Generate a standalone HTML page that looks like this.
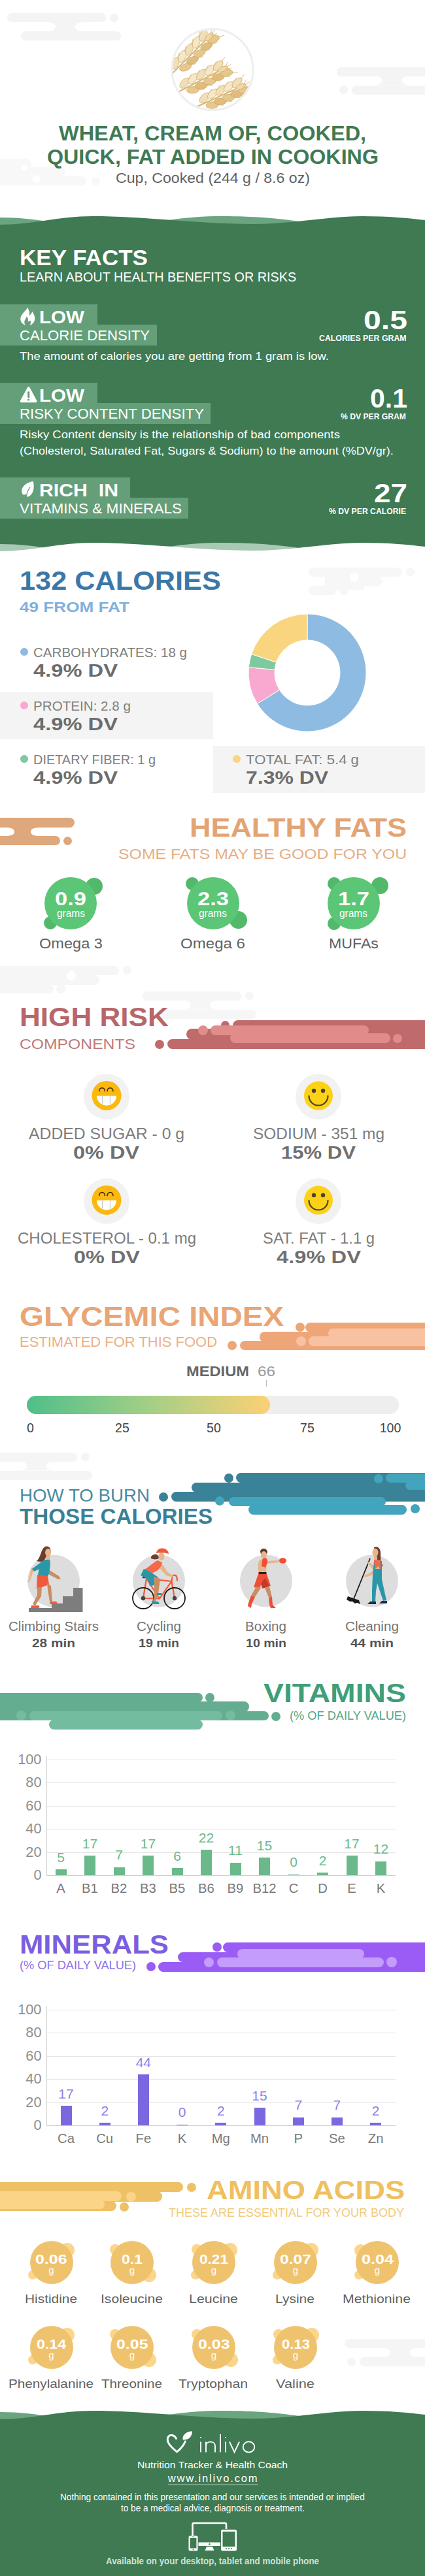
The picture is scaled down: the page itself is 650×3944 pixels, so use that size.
<!DOCTYPE html><html><head><meta charset="utf-8"><title>Wheat, cream of, cooked</title><style>
html,body{margin:0;padding:0;background:#fff}body{width:650px;height:3944px;position:relative;overflow:hidden;font-family:"Liberation Sans",sans-serif}.t{position:absolute;white-space:pre;line-height:1;margin:0;transform-origin:0 0}svg{position:absolute;overflow:visible}
</style></head><body>
<div style="position:absolute;left:11px;top:20px;width:151px;height:14px;background:#f4f4f4;border-radius:7.0px;"></div>
<div style="position:absolute;left:32px;top:48px;width:153px;height:14px;background:#f4f4f4;border-radius:7.0px;"></div>
<svg style="left:0;top:0" width="650" height="10"><path fill="#f4f4f4" d="M71,34 Q85,34 85,41 Q85,48 71,48 L129,48 Q115,48 115,41 Q115,34 129,34 Z"/></svg>
<div style="position:absolute;left:168.0px;top:20.5px;width:13.0px;height:13.0px;background:#f4f4f4;border-radius:6.5px;"></div>
<div style="position:absolute;left:514.5px;top:102.5px;width:153.0px;height:14.0px;background:#f4f4f4;border-radius:7.0px;"></div>
<div style="position:absolute;left:537.5px;top:130.5px;width:151.0px;height:14.0px;background:#f4f4f4;border-radius:7.0px;"></div>
<svg style="left:0;top:0" width="650" height="10"><path fill="#f4f4f4" d="M570.5,116.5 Q584.5,116.5 584.5,123.5 Q584.5,130.5 570.5,130.5 L628.5,130.5 Q614.5,130.5 614.5,123.5 Q614.5,116.5 628.5,116.5 Z"/></svg>
<div style="position:absolute;left:518.5px;top:131.0px;width:13.0px;height:13.0px;background:#f4f4f4;border-radius:6.5px;"></div>
<div style="position:absolute;left:-20px;top:242.5px;width:68px;height:14.0px;background:#f8f8f8;border-radius:7.0px;"></div>
<div style="position:absolute;left:-20px;top:256px;width:120px;height:14px;background:#f8f8f8;border-radius:7.0px;"></div>
<div style="position:absolute;left:-20px;top:269.5px;width:152px;height:14.5px;background:#f8f8f8;border-radius:7.25px;"></div>
<div style="position:absolute;left:140.0px;top:271.0px;width:13.0px;height:13.0px;background:#f8f8f8;border-radius:6.5px;"></div>
<div style="position:absolute;left:50px;top:267.5px;width:12px;height:12px;background:#fff;border-radius:6px;"></div>
<div style="position:absolute;left:32px;top:252px;width:10px;height:10px;background:#fff;border-radius:5px;"></div>
<svg style="left:260px;top:41px" width="130" height="130" viewBox="0 0 130 130">
<defs><clipPath id="wc"><circle cx="65" cy="65.5" r="60.5"/></clipPath></defs>
<circle cx="65" cy="65.5" r="62" fill="#fff" stroke="#eeeeee" stroke-width="3"/>
<g clip-path="url(#wc)"><g transform="translate(4,71) rotate(-45.0)"><path d="M-30,0 L76.4,0" stroke="#d9b777" stroke-width="2.2"/><g transform="translate(6.1,-3.0) rotate(-22)"><ellipse cx="8.6" cy="-1.5" rx="9.5" ry="5.2" fill="#f0dfb8" stroke="#cfa65f" stroke-width="0.7"/><path d="M17.1,-1.5 l9,-1.0" stroke="#d8b570" stroke-width="0.8"/></g><g transform="translate(12.9,3.0) rotate(22)"><ellipse cx="8.6" cy="1.5" rx="9.5" ry="5.2" fill="#e6c88e" stroke="#cfa65f" stroke-width="0.7"/><path d="M17.1,1.5 l9,1.0" stroke="#d8b570" stroke-width="0.8"/></g><g transform="translate(21.2,-3.0) rotate(-22)"><ellipse cx="8.6" cy="-1.5" rx="9.5" ry="5.2" fill="#f5e8c8" stroke="#cfa65f" stroke-width="0.7"/><path d="M17.1,-1.5 l9,-1.0" stroke="#d8b570" stroke-width="0.8"/></g><g transform="translate(28.0,3.0) rotate(22)"><ellipse cx="8.6" cy="1.5" rx="9.5" ry="5.2" fill="#e0bd7c" stroke="#cfa65f" stroke-width="0.7"/><path d="M17.1,1.5 l9,1.0" stroke="#d8b570" stroke-width="0.8"/></g><g transform="translate(36.4,-3.0) rotate(-22)"><ellipse cx="8.6" cy="-1.5" rx="9.5" ry="5.2" fill="#f0dfb8" stroke="#cfa65f" stroke-width="0.7"/><path d="M17.1,-1.5 l9,-1.0" stroke="#d8b570" stroke-width="0.8"/></g><g transform="translate(43.2,3.0) rotate(22)"><ellipse cx="8.6" cy="1.5" rx="9.5" ry="5.2" fill="#e6c88e" stroke="#cfa65f" stroke-width="0.7"/><path d="M17.1,1.5 l9,1.0" stroke="#d8b570" stroke-width="0.8"/></g><g transform="translate(51.5,-3.0) rotate(-22)"><ellipse cx="8.6" cy="-1.5" rx="9.5" ry="5.2" fill="#f5e8c8" stroke="#cfa65f" stroke-width="0.7"/><path d="M17.1,-1.5 l9,-1.0" stroke="#d8b570" stroke-width="0.8"/></g><g transform="translate(58.3,3.0) rotate(22)"><ellipse cx="8.6" cy="1.5" rx="9.5" ry="5.2" fill="#e0bd7c" stroke="#cfa65f" stroke-width="0.7"/><path d="M17.1,1.5 l9,1.0" stroke="#d8b570" stroke-width="0.8"/></g><g transform="translate(66.7,-3.0) rotate(-22)"><ellipse cx="8.6" cy="-1.5" rx="9.5" ry="5.2" fill="#f0dfb8" stroke="#cfa65f" stroke-width="0.7"/><path d="M17.1,-1.5 l9,-1.0" stroke="#d8b570" stroke-width="0.8"/></g><g transform="translate(73.5,3.0) rotate(22)"><ellipse cx="8.6" cy="1.5" rx="9.5" ry="5.2" fill="#e6c88e" stroke="#cfa65f" stroke-width="0.7"/><path d="M17.1,1.5 l9,1.0" stroke="#d8b570" stroke-width="0.8"/></g><ellipse cx="78.9" cy="0" rx="8" ry="3.6" fill="#efd9a8" stroke="#cfa65f" stroke-width="0.7"/><path d="M84.9,0 l9,-1 M82.9,-1 l8,-5 M82.9,1 l8,4" stroke="#d8b570" stroke-width="0.8" fill="none"/></g><g transform="translate(14,99) rotate(-27.2)"><path d="M-30,0 L72.9,0" stroke="#d9b777" stroke-width="2.2"/><g transform="translate(5.8,-3.0) rotate(-22)"><ellipse cx="8.6" cy="-1.5" rx="9.5" ry="5.2" fill="#f0dfb8" stroke="#cfa65f" stroke-width="0.7"/><path d="M17.1,-1.5 l9,-1.0" stroke="#d8b570" stroke-width="0.8"/></g><g transform="translate(12.3,3.0) rotate(22)"><ellipse cx="8.6" cy="1.5" rx="9.5" ry="5.2" fill="#e6c88e" stroke="#cfa65f" stroke-width="0.7"/><path d="M17.1,1.5 l9,1.0" stroke="#d8b570" stroke-width="0.8"/></g><g transform="translate(20.2,-3.0) rotate(-22)"><ellipse cx="8.6" cy="-1.5" rx="9.5" ry="5.2" fill="#f5e8c8" stroke="#cfa65f" stroke-width="0.7"/><path d="M17.1,-1.5 l9,-1.0" stroke="#d8b570" stroke-width="0.8"/></g><g transform="translate(26.7,3.0) rotate(22)"><ellipse cx="8.6" cy="1.5" rx="9.5" ry="5.2" fill="#e0bd7c" stroke="#cfa65f" stroke-width="0.7"/><path d="M17.1,1.5 l9,1.0" stroke="#d8b570" stroke-width="0.8"/></g><g transform="translate(34.7,-3.0) rotate(-22)"><ellipse cx="8.6" cy="-1.5" rx="9.5" ry="5.2" fill="#f0dfb8" stroke="#cfa65f" stroke-width="0.7"/><path d="M17.1,-1.5 l9,-1.0" stroke="#d8b570" stroke-width="0.8"/></g><g transform="translate(41.2,3.0) rotate(22)"><ellipse cx="8.6" cy="1.5" rx="9.5" ry="5.2" fill="#e6c88e" stroke="#cfa65f" stroke-width="0.7"/><path d="M17.1,1.5 l9,1.0" stroke="#d8b570" stroke-width="0.8"/></g><g transform="translate(49.1,-3.0) rotate(-22)"><ellipse cx="8.6" cy="-1.5" rx="9.5" ry="5.2" fill="#f5e8c8" stroke="#cfa65f" stroke-width="0.7"/><path d="M17.1,-1.5 l9,-1.0" stroke="#d8b570" stroke-width="0.8"/></g><g transform="translate(55.7,3.0) rotate(22)"><ellipse cx="8.6" cy="1.5" rx="9.5" ry="5.2" fill="#e0bd7c" stroke="#cfa65f" stroke-width="0.7"/><path d="M17.1,1.5 l9,1.0" stroke="#d8b570" stroke-width="0.8"/></g><g transform="translate(63.6,-3.0) rotate(-22)"><ellipse cx="8.6" cy="-1.5" rx="9.5" ry="5.2" fill="#f0dfb8" stroke="#cfa65f" stroke-width="0.7"/><path d="M17.1,-1.5 l9,-1.0" stroke="#d8b570" stroke-width="0.8"/></g><g transform="translate(70.1,3.0) rotate(22)"><ellipse cx="8.6" cy="1.5" rx="9.5" ry="5.2" fill="#e6c88e" stroke="#cfa65f" stroke-width="0.7"/><path d="M17.1,1.5 l9,1.0" stroke="#d8b570" stroke-width="0.8"/></g><ellipse cx="75.0" cy="0" rx="8" ry="3.6" fill="#efd9a8" stroke="#cfa65f" stroke-width="0.7"/><path d="M81.0,0 l9,-1 M79.0,-1 l8,-5 M79.0,1 l8,4" stroke="#d8b570" stroke-width="0.8" fill="none"/></g><g transform="translate(44,121) rotate(-24.6)"><path d="M-30,0 L69.3,0" stroke="#d9b777" stroke-width="2.2"/><g transform="translate(5.5,-3.0) rotate(-22)"><ellipse cx="8.6" cy="-1.5" rx="9.5" ry="5.2" fill="#f0dfb8" stroke="#cfa65f" stroke-width="0.7"/><path d="M17.1,-1.5 l9,-1.0" stroke="#d8b570" stroke-width="0.8"/></g><g transform="translate(11.7,3.0) rotate(22)"><ellipse cx="8.6" cy="1.5" rx="9.5" ry="5.2" fill="#e6c88e" stroke="#cfa65f" stroke-width="0.7"/><path d="M17.1,1.5 l9,1.0" stroke="#d8b570" stroke-width="0.8"/></g><g transform="translate(19.2,-3.0) rotate(-22)"><ellipse cx="8.6" cy="-1.5" rx="9.5" ry="5.2" fill="#f5e8c8" stroke="#cfa65f" stroke-width="0.7"/><path d="M17.1,-1.5 l9,-1.0" stroke="#d8b570" stroke-width="0.8"/></g><g transform="translate(25.4,3.0) rotate(22)"><ellipse cx="8.6" cy="1.5" rx="9.5" ry="5.2" fill="#e0bd7c" stroke="#cfa65f" stroke-width="0.7"/><path d="M17.1,1.5 l9,1.0" stroke="#d8b570" stroke-width="0.8"/></g><g transform="translate(33.0,-3.0) rotate(-22)"><ellipse cx="8.6" cy="-1.5" rx="9.5" ry="5.2" fill="#f0dfb8" stroke="#cfa65f" stroke-width="0.7"/><path d="M17.1,-1.5 l9,-1.0" stroke="#d8b570" stroke-width="0.8"/></g><g transform="translate(39.2,3.0) rotate(22)"><ellipse cx="8.6" cy="1.5" rx="9.5" ry="5.2" fill="#e6c88e" stroke="#cfa65f" stroke-width="0.7"/><path d="M17.1,1.5 l9,1.0" stroke="#d8b570" stroke-width="0.8"/></g><g transform="translate(46.7,-3.0) rotate(-22)"><ellipse cx="8.6" cy="-1.5" rx="9.5" ry="5.2" fill="#f5e8c8" stroke="#cfa65f" stroke-width="0.7"/><path d="M17.1,-1.5 l9,-1.0" stroke="#d8b570" stroke-width="0.8"/></g><g transform="translate(52.9,3.0) rotate(22)"><ellipse cx="8.6" cy="1.5" rx="9.5" ry="5.2" fill="#e0bd7c" stroke="#cfa65f" stroke-width="0.7"/><path d="M17.1,1.5 l9,1.0" stroke="#d8b570" stroke-width="0.8"/></g><g transform="translate(60.5,-3.0) rotate(-22)"><ellipse cx="8.6" cy="-1.5" rx="9.5" ry="5.2" fill="#f0dfb8" stroke="#cfa65f" stroke-width="0.7"/><path d="M17.1,-1.5 l9,-1.0" stroke="#d8b570" stroke-width="0.8"/></g><g transform="translate(66.7,3.0) rotate(22)"><ellipse cx="8.6" cy="1.5" rx="9.5" ry="5.2" fill="#e6c88e" stroke="#cfa65f" stroke-width="0.7"/><path d="M17.1,1.5 l9,1.0" stroke="#d8b570" stroke-width="0.8"/></g><ellipse cx="71.0" cy="0" rx="8" ry="3.6" fill="#efd9a8" stroke="#cfa65f" stroke-width="0.7"/><path d="M77.0,0 l9,-1 M75.0,-1 l8,-5 M75.0,1 l8,4" stroke="#d8b570" stroke-width="0.8" fill="none"/></g></g></svg>
<div style="position:absolute;left:0px;top:350px;width:650px;height:500px;background:#3f7a53;border-radius:0px;"></div>
<svg style="left:0;top:320px" width="650" height="40" viewBox="0 320 650 40"><path fill="#6aa57f" d="M0,333 C30,333 55,336 90,342 L230,342 C270,334 305,331 340,331 C390,331 430,334 490,344 L490,360 L0,360 Z"/><path fill="#3f7a53" d="M0,344 C50,344 90,331 141,331 C225,331 300,343 386,343 C450,343 500,331 554,331 C595,331 625,334 650,337 L650,360 L0,360 Z"/></svg>
<div style="position:absolute;left:0px;top:466px;width:149px;height:32px;background:#659f7a;border-radius:0px;"></div>
<div style="position:absolute;left:0px;top:497px;width:240px;height:32px;background:#659f7a;border-radius:0px;"></div>
<svg style="left:0;top:466px" width="70" height="34" viewBox="0 0 70 34"><path fill="#fff" d="M41.6,4.5 C44,8 46,12 44.5,17 C46.5,16 48.5,14 49.3,11 C52,15 53.8,19 53.2,23 C52.5,28 49,31 45.5,32 C47.5,29.5 47.5,26.5 46,24.5 C45,26 43.5,26.5 42.5,26 C43.5,23 42.5,20 40.5,18.5 C40.5,21.5 37.5,23.5 37.3,27 C37.2,29 38,31 39.5,32 C35,31 31.5,27.5 31.3,22.5 C31.2,18 34,15 36.5,12 C39,9 41.5,7.5 41.6,4.5 Z"/></svg>
<div style="position:absolute;left:0px;top:586px;width:149px;height:32px;background:#659f7a;border-radius:0px;"></div>
<div style="position:absolute;left:0px;top:617px;width:322px;height:32px;background:#659f7a;border-radius:0px;"></div>
<svg style="left:0;top:586px" width="70" height="34" viewBox="0 0 70 34"><path fill="#fff" stroke="#fff" stroke-width="3.6" stroke-linejoin="round" d="M43.7,7.8 L54.8,28.4 L32.6,28.4 Z"/><rect x="42.2" y="13.3" width="3" height="10" rx="1" fill="#659f7a"/><rect x="42.2" y="24.8" width="3" height="2.8" rx="1" fill="#659f7a"/></svg>
<div style="position:absolute;left:0px;top:731px;width:199px;height:32px;background:#659f7a;border-radius:0px;"></div>
<div style="position:absolute;left:0px;top:762px;width:288px;height:32px;background:#659f7a;border-radius:0px;"></div>
<svg style="left:0;top:731px" width="70" height="34" viewBox="0 0 70 34"><path fill="#fff" d="M50.8,6 C42,7 33,13 33.2,21 C33.3,24 34.5,26 36,26.6 L40.5,26 C40.5,28 41.2,29.5 42.5,29.8 C50,27 53.5,18 50.8,6 Z"/><path d="M40.6,28 C41.3,22 43.5,18.5 46.2,14.5" stroke="#659f7a" stroke-width="1.3" fill="none"/></svg>
<svg style="left:0;top:820px" width="650" height="40" viewBox="0 320 650 40"><path fill="#a8c9b3" d="M0,333 C30,333 55,336 90,342 L230,342 C270,334 305,331 340,331 C390,331 430,334 490,344 L490,360 L0,360 Z"/><path fill="#fff" d="M0,344 C50,344 90,331 141,331 C225,331 300,343 386,343 C450,343 500,331 554,331 C595,331 625,334 650,337 L650,360 L0,360 Z"/></svg>
<div style="position:absolute;left:472px;top:868.5px;width:142.5px;height:14.0px;background:#f7f7f7;border-radius:7.0px;"></div>
<div style="position:absolute;left:620.5px;top:869.0px;width:13.0px;height:13.0px;background:#f7f7f7;border-radius:6.5px;"></div>
<div style="position:absolute;left:497px;top:878.5px;width:60px;height:24px;background:#f7f7f7;border-radius:0px;"></div>
<div style="position:absolute;left:497px;top:882.5px;width:87.5px;height:15.0px;background:#f7f7f7;border-radius:7.5px;"></div>
<div style="position:absolute;left:472px;top:896.5px;width:42.5px;height:14.0px;background:#f7f7f7;border-radius:7.0px;"></div>
<div style="position:absolute;left:518.5px;top:897.0px;width:14px;height:14px;background:#f7f7f7;border-radius:7px;"></div>
<div style="position:absolute;left:534.5px;top:877.0px;width:14px;height:14px;background:#fff;border-radius:7px;"></div>
<div style="position:absolute;left:0px;top:1060px;width:326px;height:72px;background:#f4f4f4;border-radius:0px;"></div>
<div style="position:absolute;left:326px;top:1142px;width:324px;height:72px;background:#f4f4f4;border-radius:0px;"></div>
<div style="position:absolute;left:30.5px;top:992px;width:12px;height:12px;background:#8ebbe2;border-radius:6px;"></div>
<div style="position:absolute;left:30.5px;top:1074px;width:12px;height:12px;background:#f9a8cf;border-radius:6px;"></div>
<div style="position:absolute;left:30.5px;top:1156px;width:12px;height:12px;background:#7fc99e;border-radius:6px;"></div>
<div style="position:absolute;left:355.5px;top:1156px;width:12px;height:12px;background:#fad580;border-radius:6px;"></div>
<svg style="left:380px;top:940px" width="180" height="180" viewBox="-90 -90 180 180"><path fill="#8ebbe2" stroke="#fff" stroke-width="1" d="M0.00,-90.00 A90,90 0 1 1 -76.52,47.38 L-42.51,26.32 A50,50 0 1 0 0.00,-50.00 Z"/><path fill="#f9a8cf" stroke="#fff" stroke-width="1" d="M-76.52,47.38 A90,90 0 0 1 -89.62,-8.30 L-49.79,-4.61 A50,50 0 0 0 -42.51,26.32 Z"/><path fill="#7fc99e" stroke="#fff" stroke-width="1" d="M-89.62,-8.30 A90,90 0 0 1 -85.33,-28.60 L-47.41,-15.89 A50,50 0 0 0 -49.79,-4.61 Z"/><path fill="#fad580" stroke="#fff" stroke-width="1" d="M-85.33,-28.60 A90,90 0 0 1 -0.00,-90.00 L-0.00,-50.00 A50,50 0 0 0 -47.41,-15.89 Z"/></svg>
<div style="position:absolute;left:-20px;top:1252px;width:134px;height:15px;background:#dea77c;border-radius:7.5px;"></div>
<div style="position:absolute;left:-20px;top:1280px;width:112px;height:14px;background:#dea77c;border-radius:7.0px;"></div>
<svg style="left:0;top:0" width="650" height="10"><path fill="#dea77c" d="M8,1267 Q22,1267 22,1273.5 Q22,1280 8,1280 L61,1280 Q47,1280 47,1273.5 Q47,1267 61,1267 Z"/></svg>
<div style="position:absolute;left:97.0px;top:1281.0px;width:13.0px;height:13.0px;background:#dea77c;border-radius:6.5px;"></div>
<div style="position:absolute;left:131px;top:1344px;width:26px;height:26px;background:#52b96b;border-radius:13px;"></div>
<div style="position:absolute;left:67px;top:1403px;width:20px;height:20px;background:#52b96b;border-radius:10px;"></div>
<div style="position:absolute;left:68px;top:1343px;width:80px;height:80px;background:#5bc676;border-radius:40px;"></div>
<div style="position:absolute;left:283.5px;top:1343px;width:20px;height:20px;background:#52b96b;border-radius:10px;"></div>
<div style="position:absolute;left:351.0px;top:1394.5px;width:27.0px;height:27.0px;background:#52b96b;border-radius:13.5px;"></div>
<div style="position:absolute;left:285.5px;top:1343px;width:80px;height:80px;background:#5bc676;border-radius:40px;"></div>
<div style="position:absolute;left:500.5px;top:1343px;width:20px;height:20px;background:#52b96b;border-radius:10px;"></div>
<div style="position:absolute;left:567.5px;top:1343px;width:26px;height:26px;background:#52b96b;border-radius:13px;"></div>
<div style="position:absolute;left:500.5px;top:1404px;width:20px;height:20px;background:#52b96b;border-radius:10px;"></div>
<div style="position:absolute;left:500.5px;top:1343px;width:80px;height:80px;background:#5bc676;border-radius:40px;"></div>
<div style="position:absolute;left:-20px;top:1478.5px;width:202px;height:14.0px;background:#f6f6f6;border-radius:7.0px;"></div>
<div style="position:absolute;left:188.0px;top:1479.0px;width:13.0px;height:13.0px;background:#f6f6f6;border-radius:6.5px;"></div>
<div style="position:absolute;left:-20px;top:1488.5px;width:60px;height:24px;background:#f6f6f6;border-radius:0px;"></div>
<div style="position:absolute;left:-20px;top:1492.5px;width:172px;height:15.0px;background:#f6f6f6;border-radius:7.5px;"></div>
<div style="position:absolute;left:-20px;top:1506.5px;width:102px;height:14.0px;background:#f6f6f6;border-radius:7.0px;"></div>
<div style="position:absolute;left:86px;top:1507.0px;width:14px;height:14px;background:#f6f6f6;border-radius:7px;"></div>
<div style="position:absolute;left:102px;top:1487.0px;width:14px;height:14px;background:#fff;border-radius:7px;"></div>
<div style="position:absolute;left:217.5px;top:1517.5px;width:151.0px;height:14.0px;background:#f6f6f6;border-radius:7.0px;"></div>
<div style="position:absolute;left:238.5px;top:1545.5px;width:153.0px;height:14.0px;background:#f6f6f6;border-radius:7.0px;"></div>
<svg style="left:0;top:0" width="650" height="10"><path fill="#f6f6f6" d="M277.5,1531.5 Q291.5,1531.5 291.5,1538.5 Q291.5,1545.5 277.5,1545.5 L335.5,1545.5 Q321.5,1545.5 321.5,1538.5 Q321.5,1531.5 335.5,1531.5 Z"/></svg>
<div style="position:absolute;left:374.5px;top:1518.0px;width:13.0px;height:13.0px;background:#f6f6f6;border-radius:6.5px;"></div>
<div style="position:absolute;left:356px;top:1562px;width:344px;height:16px;background:#bf6b6b;border-radius:8.0px;"></div>
<div style="position:absolute;left:337.5px;top:1562.5px;width:13.0px;height:13.0px;background:#bf6b6b;border-radius:6.5px;"></div>
<div style="position:absolute;left:285px;top:1575px;width:415px;height:17px;background:#bf6b6b;border-radius:8.5px;"></div>
<div style="position:absolute;left:300px;top:1580px;width:350px;height:20px;background:#bf6b6b;border-radius:0px;"></div>
<div style="position:absolute;left:256px;top:1591px;width:444px;height:15px;background:#bf6b6b;border-radius:7.5px;"></div>
<div style="position:absolute;left:237px;top:1592px;width:14px;height:14px;background:#bf6b6b;border-radius:7px;"></div>
<div style="position:absolute;left:370px;top:1565px;width:280px;height:38px;background:#bf6b6b;border-radius:0px;"></div>
<div style="position:absolute;left:302.5px;top:1570.0px;width:15.0px;height:15.0px;background:#e18b8b;border-radius:7.5px;"></div>
<div style="position:absolute;left:322px;top:1570px;width:242px;height:15px;background:#e18b8b;border-radius:7.5px;"></div>
<div style="position:absolute;left:352px;top:1582px;width:245px;height:15px;background:#e18b8b;border-radius:7.5px;"></div>
<div style="position:absolute;left:360px;top:1575px;width:190px;height:15px;background:#e18b8b;border-radius:0px;"></div>
<div style="position:absolute;left:601px;top:1582.5px;width:14px;height:14px;background:#e18b8b;border-radius:7px;"></div>
<svg style="left:127.5px;top:1643.5px" width="70" height="70" viewBox="-35 -35 70 70"><circle r="35" fill="#f2f2f2"/><circle cy="-1.6" r="22.5" fill="#fbb80f"/><path d="M-11.3,-8.4 a4.35,5 0 0 1 8.7,0 M1.1,-8.4 a4.4,5 0 0 1 8.8,0" stroke="#3a2a10" stroke-width="1.6" fill="none" stroke-linecap="round"/><path d="M-15,-1.3 L15,-1.3 A15,15 0 0 1 -15,-1.3 Z" fill="#fff"/><path d="M-6.4,-1.3 V11.8 M5.4,-1.3 V11.8" stroke="#ccc" stroke-width="1.2"/></svg>
<svg style="left:452px;top:1643.5px" width="70" height="70" viewBox="-35 -35 70 70"><circle r="35" fill="#f2f2f2"/><circle cy="-1.4" r="22" fill="#fcd116"/><circle cx="-7" cy="-9" r="3.2" fill="#4a4430"/><circle cx="7" cy="-9" r="3.2" fill="#4a4430"/><path d="M-14.5,-1 A14.5,14.5 0 0 0 14.5,-1" stroke="#4a4430" stroke-width="2.2" fill="none" stroke-linecap="round"/></svg>
<svg style="left:128px;top:1803.5px" width="70" height="70" viewBox="-35 -35 70 70"><circle r="35" fill="#f2f2f2"/><circle cy="-1.6" r="22.5" fill="#fbb80f"/><path d="M-11.3,-8.4 a4.35,5 0 0 1 8.7,0 M1.1,-8.4 a4.4,5 0 0 1 8.8,0" stroke="#3a2a10" stroke-width="1.6" fill="none" stroke-linecap="round"/><path d="M-15,-1.3 L15,-1.3 A15,15 0 0 1 -15,-1.3 Z" fill="#fff"/><path d="M-6.4,-1.3 V11.8 M5.4,-1.3 V11.8" stroke="#ccc" stroke-width="1.2"/></svg>
<svg style="left:452px;top:1803.5px" width="70" height="70" viewBox="-35 -35 70 70"><circle r="35" fill="#f2f2f2"/><circle cy="-1.4" r="22" fill="#fcd116"/><circle cx="-7" cy="-9" r="3.2" fill="#4a4430"/><circle cx="7" cy="-9" r="3.2" fill="#4a4430"/><path d="M-14.5,-1 A14.5,14.5 0 0 0 14.5,-1" stroke="#4a4430" stroke-width="2.2" fill="none" stroke-linecap="round"/></svg>
<div style="position:absolute;left:451.5px;top:2025px;width:14px;height:14px;background:#eea678;border-radius:7px;"></div>
<div style="position:absolute;left:467px;top:2025px;width:233px;height:15px;background:#eea678;border-radius:7.5px;"></div>
<div style="position:absolute;left:397px;top:2039px;width:303px;height:16px;background:#eea678;border-radius:8.0px;"></div>
<div style="position:absolute;left:367px;top:2053px;width:333px;height:14px;background:#eea678;border-radius:7.0px;"></div>
<div style="position:absolute;left:420px;top:2044px;width:230px;height:16px;background:#eea678;border-radius:0px;"></div>
<div style="position:absolute;left:482px;top:2030px;width:168px;height:20px;background:#eea678;border-radius:0px;"></div>
<div style="position:absolute;left:348px;top:2053px;width:14px;height:14px;background:#eea678;border-radius:7px;"></div>
<div style="position:absolute;left:502px;top:2034px;width:198px;height:14px;background:#f8c2a2;border-radius:7.0px;"></div>
<div style="position:absolute;left:472px;top:2046px;width:228px;height:15px;background:#f8c2a2;border-radius:7.5px;"></div>
<div style="position:absolute;left:520px;top:2040px;width:130px;height:12px;background:#f8c2a2;border-radius:0px;"></div>
<div style="position:absolute;left:452.5px;top:2046.0px;width:15.0px;height:15.0px;background:#f8c2a2;border-radius:7.5px;"></div>
<div style="position:absolute;left:406.5px;top:2113px;width:1px;height:10px;background:#bbb;border-radius:0px;"></div>
<div style="position:absolute;left:41px;top:2137px;width:569px;height:28px;background:#eeeeee;border-radius:14.0px;"></div>
<div style="position:absolute;left:41px;top:2137px;width:372px;height:28px;border-radius:14px;background:linear-gradient(90deg,#4fbf8a 0%,#a3cf86 50%,#fdd074 100%)"></div>
<div style="position:absolute;left:-33px;top:2223.5px;width:151px;height:14.0px;background:#f5f5f5;border-radius:7.0px;"></div>
<div style="position:absolute;left:-12px;top:2251.5px;width:153px;height:14.0px;background:#f5f5f5;border-radius:7.0px;"></div>
<svg style="left:0;top:0" width="650" height="10"><path fill="#f5f5f5" d="M27,2237.5 Q41,2237.5 41,2244.5 Q41,2251.5 27,2251.5 L85,2251.5 Q71,2251.5 71,2244.5 Q71,2237.5 85,2237.5 Z"/></svg>
<div style="position:absolute;left:124.0px;top:2224.0px;width:13.0px;height:13.0px;background:#f5f5f5;border-radius:6.5px;"></div>
<div style="position:absolute;left:343px;top:2255.5px;width:14px;height:14px;background:#3a8297;border-radius:7px;"></div>
<div style="position:absolute;left:361px;top:2255px;width:339px;height:15px;background:#3a8297;border-radius:7.5px;"></div>
<div style="position:absolute;left:292.5px;top:2270px;width:407.5px;height:15px;background:#3a8297;border-radius:7.5px;"></div>
<div style="position:absolute;left:310px;top:2275px;width:340px;height:18px;background:#3a8297;border-radius:0px;"></div>
<div style="position:absolute;left:376px;top:2260px;width:274px;height:30px;background:#3a8297;border-radius:0px;"></div>
<div style="position:absolute;left:262px;top:2284px;width:438px;height:15px;background:#3a8297;border-radius:7.5px;"></div>
<div style="position:absolute;left:243px;top:2284.5px;width:14px;height:14px;background:#3a8297;border-radius:7px;"></div>
<div style="position:absolute;left:329px;top:2290.5px;width:14px;height:14px;background:#42a5bd;border-radius:7px;"></div>
<div style="position:absolute;left:350px;top:2291.5px;width:240px;height:14.5px;background:#42a5bd;border-radius:7.25px;"></div>
<div style="position:absolute;left:380px;top:2304px;width:242px;height:15px;background:#42a5bd;border-radius:7.5px;"></div>
<div style="position:absolute;left:390px;top:2298px;width:190px;height:14px;background:#42a5bd;border-radius:0px;"></div>
<div style="position:absolute;left:627.5px;top:2303px;width:14px;height:14px;background:#42a5bd;border-radius:7px;"></div>
<div style="position:absolute;left:571.5px;top:2256.5px;width:14px;height:14px;background:#42a5bd;border-radius:7px;"></div>
<div style="position:absolute;left:590px;top:2256px;width:110px;height:14px;background:#42a5bd;border-radius:7.0px;"></div>
<div style="position:absolute;left:620px;top:2268px;width:80px;height:13px;background:#42a5bd;border-radius:6.5px;"></div>
<svg style="left:26.5px;top:2360px" width="110" height="112" viewBox="-55 2360 110 112"><circle cx="0" cy="2420.5" r="40" fill="#dddddd"/>
<path fill="#7d7d7d" d="M-38,2462 H44.5 V2431 H30 V2444 H14 V2455 H-3 V2462 Z M-38,2462 h82.5 v6 h-82.5 z"/>
<path fill="#6b3e2e" d="M-13,2368 C-6,2366 -3,2372 -5,2380 L-12,2384 C-14,2392 -20,2392 -26,2390 C-19,2384 -20,2372 -13,2368 Z"/>
<ellipse cx="-8.5" cy="2377" rx="4.5" ry="6" fill="#e8b48a"/>
<path fill="#e8b48a" d="M-11,2382 h5 v6 h-5 z"/>
<path fill="#c98d62" d="M-8,2403 L8,2413 L11,2418 L7,2418 L-10,2409 Z"/>
<path fill="#e8b48a" d="M-30,2402 L-36,2420 L-40,2424 L-38,2418 L-34,2400 Z"/>
<path fill="#2a97a8" d="M-14,2388 L-6,2388 C-4,2396 -6,2406 -9,2414 L-24,2412 C-23,2404 -22,2398 -14,2388 Z"/><path fill="#2a97a8" d="M-14,2388 L-33,2402 L-30,2406 L-17,2400 Z"/>
<path fill="#f05a3c" d="M-25,2411 L-9,2413 L-7,2426 L-26,2433 Z"/>
<path fill="#c98d62" d="M-10,2424 L-4,2428 L-2,2452 L-6,2452 L-9,2434 Z M-25,2430 L-18,2430 L-19,2444 L-28,2458 L-32,2456 L-25,2442 Z"/>
<path fill="#f05a3c" d="M-5,2452 h9 q3,3 0,4 h-10 z M-34,2458 h11 q3,3 0,4 h-12 z"/>
</svg>
<svg style="left:188px;top:2360px" width="110" height="112" viewBox="-55 2360 110 112"><circle cx="0" cy="2420.5" r="40" fill="#dddddd"/>
<g fill="none" stroke="#f05a3c" stroke-width="2.2" stroke-linecap="round" stroke-linejoin="round">
<path d="M-24,2447 L-19,2417 L19.5,2421 L1,2447.5 L-24,2447 M-19,2417 L1,2447.5 M24,2447 L19.5,2421 L21,2412.5 Q28,2409 28,2420"/></g>
<path d="M-25,2415 h9" stroke="#222" stroke-width="2.5"/>
<circle cx="-24" cy="2447" r="16" fill="none" stroke="#1a1a1a" stroke-width="1.8"/><circle cx="24" cy="2447" r="16" fill="none" stroke="#1a1a1a" stroke-width="1.8"/>
<circle cx="-24" cy="2447" r="3.2" fill="#444"/><circle cx="24" cy="2447" r="3.2" fill="#444"/>
<path fill="#6b3e2e" d="M-3,2380 C-8,2379 -13,2382 -12,2386 C-8,2388 -2,2388 1,2385 Z"/>
<ellipse cx="4" cy="2383" rx="4.5" ry="6" fill="#e8b48a"/>
<path fill="#f05a3c" d="M-4,2378 C-3,2368 14,2368 15,2379 C9,2377 2,2377 -4,2378 Z"/>
<path fill="#e8b48a" d="M0,2392 L6,2396 L14,2408 L22,2412 L21,2415 L11,2412 L2,2402 Z"/>
<path fill="#f26a4a" d="M-2,2389 L5,2392 C4,2400 -2,2406 -12,2409 L-22,2403 C-14,2398 -8,2392 -2,2389 Z"/>
<path fill="#2a97a8" d="M-23,2402 L-11,2408 L-1,2415 L-6,2427 L-14,2428 L-17,2418 L-28,2412 Z"/>
<path fill="#c98d62" d="M-8,2414 L2,2417 L1,2426 L-1,2440 L-5,2453 L-9,2452 L-7,2438 L-7,2426 Z"/>
<path fill="#2a97a8" d="M-11,2452 h10 l2,4 h-12 z M-3,2439 h7 l1,3 h-8 z"/>
</svg>
<svg style="left:351.5px;top:2360px" width="110" height="112" viewBox="-55 2360 110 112"><circle cx="0" cy="2420.5" r="40" fill="#dddddd"/>
<path fill="#5a3a2a" d="M-9,2376 C-9,2370 1,2369 2,2376 L1,2379 L-7,2382 Z"/>
<ellipse cx="-3.5" cy="2381" rx="4.5" ry="6" fill="#e8b48a"/>
<path fill="#e8b48a" d="M-11,2390 C-8,2386 -2,2386 1,2390 L20,2389 L20,2392 L1,2394 L0,2408 L-11,2408 C-13,2402 -13,2396 -11,2390 Z"/>
<path fill="#f04e37" d="M-6,2389 a4.2,5 0 1 1 8,3 l-3,8 l-6,-2 z"/>
<ellipse cx="25.5" cy="2389.5" rx="5.5" ry="4.2" fill="#f04e37"/>
<path fill="#222" d="M-11.5,2407 h12 v3 h-12 z"/>
<path fill="#f04e37" d="M-12,2410 h13 l6,18 l-11,4 l-3,-8 l-3,8 l-9,-2 z"/>
<path fill="#c23a28" d="M-2,2416 l7,12 l-11,4 l-2,-7 z"/>
<path fill="#c98d62" d="M-15,2429 L-8,2431 L-17,2445 L-23,2443 Z M-2,2431 L5,2429 L9,2445 L4,2446 Z"/>
<path fill="#f04e37" d="M-23,2443 L-17,2445 L-22,2456 L-23,2462 L-28,2459 L-27,2454 Z M4,2446 L9,2445 L10,2457 L15,2462 L7,2462 L5,2457 Z"/>
</svg>
<svg style="left:513.5px;top:2360px" width="110" height="112" viewBox="-55 2360 110 112"><circle cx="0" cy="2420.5" r="40" fill="#dddddd"/>
<path d="M-3,2386 L-28,2448" stroke="#1a1a1a" stroke-width="1.8"/>
<path fill="#1a1a1a" d="M-37,2444 l17,6 l2,6 l-5,-2 l-3,1 l-4,-3 l-4,0 l-5,-3 z"/>
<path fill="#6b3e2e" d="M3,2369 C11,2366 14,2374 13,2382 C13,2390 15,2394 17,2398 L8,2396 L6,2384 Z"/>
<ellipse cx="5" cy="2377" rx="4.5" ry="6.2" fill="#e8b48a"/>
<path fill="#e8b48a" d="M3,2383 h5 v5 h-5 z"/>
<path fill="#f26a4a" d="M3,2388 L12,2388 C16,2392 16,2400 14,2404 L3,2402 Z"/>
<path fill="#e8b48a" d="M3,2398 L-4,2392 L-8,2390 L-8,2393 L-4,2396 L1,2403 Z M10,2398 L-3,2408 L-12,2412 L-11,2415 L-1,2412 L12,2403 Z"/>
<path fill="#2a97a8" d="M3,2390 L5,2402 L13,2402 L13,2390 L15,2390 L15,2412 L15,2418 L22,2450 L17,2451 L8,2424 L6,2436 L5,2452 L0,2452 L0,2434 L1,2412 Z"/>
<path fill="#1f2d4d" d="M-3,2452 h9 v4 h-13 z M15,2451 h8 v4 h-12 z"/>
</svg>
<div style="position:absolute;left:-50px;top:2591.5px;width:360px;height:14.5px;background:#65ad90;border-radius:7.25px;"></div>
<div style="position:absolute;left:313.5px;top:2591.5px;width:14px;height:14px;background:#65ad90;border-radius:7px;"></div>
<div style="position:absolute;left:-50px;top:2605px;width:430.5px;height:15.5px;background:#65ad90;border-radius:7.75px;"></div>
<div style="position:absolute;left:-50px;top:2620px;width:460.5px;height:14px;background:#65ad90;border-radius:7.0px;"></div>
<div style="position:absolute;left:415px;top:2620.5px;width:14px;height:14px;background:#65ad90;border-radius:7px;"></div>
<div style="position:absolute;left:25.0px;top:2619.0px;width:15.0px;height:15.0px;background:#74bca0;border-radius:7.5px;"></div>
<div style="position:absolute;left:45px;top:2620px;width:295px;height:14px;background:#74bca0;border-radius:7.0px;"></div>
<div style="position:absolute;left:344.5px;top:2619.0px;width:15.0px;height:15.0px;background:#74bca0;border-radius:7.5px;"></div>
<div style="position:absolute;left:75px;top:2632.5px;width:235px;height:15.0px;background:#74bca0;border-radius:7.5px;"></div>
<div style="position:absolute;left:90px;top:2628px;width:200px;height:10px;background:#74bca0;border-radius:0px;"></div>
<div style="position:absolute;left:71px;top:2871px;width:534px;height:1px;background:#cfcfcf;border-radius:0px;"></div>
<div style="position:absolute;left:71px;top:2836px;width:534px;height:1px;background:#e4e4e4;border-radius:0px;"></div>
<div style="position:absolute;left:71px;top:2800px;width:534px;height:1px;background:#e4e4e4;border-radius:0px;"></div>
<div style="position:absolute;left:71px;top:2765px;width:534px;height:1px;background:#e4e4e4;border-radius:0px;"></div>
<div style="position:absolute;left:71px;top:2729px;width:534px;height:1px;background:#e4e4e4;border-radius:0px;"></div>
<div style="position:absolute;left:71px;top:2694px;width:534px;height:1px;background:#e4e4e4;border-radius:0px;"></div>
<div style="position:absolute;left:70.5px;top:2688px;width:1px;height:184px;background:#d0d0d0;border-radius:0px;"></div>
<div style="position:absolute;left:84.5px;top:2862.15px;width:17px;height:8.85px;background:#6bb98b;border-radius:0px;"></div>
<div style="position:absolute;left:129.0px;top:2840.91px;width:17px;height:30.09px;background:#6bb98b;border-radius:0px;"></div>
<div style="position:absolute;left:173.5px;top:2858.61px;width:17px;height:12.39px;background:#6bb98b;border-radius:0px;"></div>
<div style="position:absolute;left:218.0px;top:2840.91px;width:17px;height:30.09px;background:#6bb98b;border-radius:0px;"></div>
<div style="position:absolute;left:262.5px;top:2860.38px;width:17px;height:10.620000000000001px;background:#6bb98b;border-radius:0px;"></div>
<div style="position:absolute;left:307.0px;top:2832.06px;width:17px;height:38.94px;background:#6bb98b;border-radius:0px;"></div>
<div style="position:absolute;left:351.5px;top:2851.53px;width:17px;height:19.47px;background:#6bb98b;border-radius:0px;"></div>
<div style="position:absolute;left:396.0px;top:2844.45px;width:17px;height:26.55px;background:#6bb98b;border-radius:0px;"></div>
<div style="position:absolute;left:440.5px;top:2869.5px;width:17px;height:1.5px;background:#6bb98b;border-radius:0px;"></div>
<div style="position:absolute;left:485.0px;top:2867.46px;width:17px;height:3.54px;background:#6bb98b;border-radius:0px;"></div>
<div style="position:absolute;left:529.5px;top:2840.91px;width:17px;height:30.09px;background:#6bb98b;border-radius:0px;"></div>
<div style="position:absolute;left:574.0px;top:2849.76px;width:17px;height:21.240000000000002px;background:#6bb98b;border-radius:0px;"></div>
<div style="position:absolute;left:324.5px;top:2974px;width:14px;height:14px;background:#9b5cf5;border-radius:7px;"></div>
<div style="position:absolute;left:340.5px;top:2974px;width:359.5px;height:15px;background:#9b5cf5;border-radius:7.5px;"></div>
<div style="position:absolute;left:271.5px;top:2988.5px;width:428.5px;height:15.5px;background:#9b5cf5;border-radius:7.75px;"></div>
<div style="position:absolute;left:242px;top:3003.5px;width:458px;height:15.0px;background:#9b5cf5;border-radius:7.5px;"></div>
<div style="position:absolute;left:223.5px;top:3003.5px;width:14px;height:14px;background:#9b5cf5;border-radius:7px;"></div>
<div style="position:absolute;left:363px;top:2983.5px;width:194px;height:15.0px;background:#c49cfb;border-radius:7.5px;"></div>
<div style="position:absolute;left:331.5px;top:2996.5px;width:255.5px;height:15.0px;background:#c49cfb;border-radius:7.5px;"></div>
<div style="position:absolute;left:375px;top:2990px;width:170px;height:12px;background:#c49cfb;border-radius:0px;"></div>
<div style="position:absolute;left:312.0px;top:2996.5px;width:15.0px;height:15.0px;background:#c49cfb;border-radius:7.5px;"></div>
<div style="position:absolute;left:590.5px;top:2995.5px;width:16px;height:16px;background:#c49cfb;border-radius:8px;"></div>
<div style="position:absolute;left:71px;top:3254px;width:534px;height:1px;background:#cfcfcf;border-radius:0px;"></div>
<div style="position:absolute;left:71px;top:3219px;width:534px;height:1px;background:#e4e4e4;border-radius:0px;"></div>
<div style="position:absolute;left:71px;top:3183px;width:534px;height:1px;background:#e4e4e4;border-radius:0px;"></div>
<div style="position:absolute;left:71px;top:3148px;width:534px;height:1px;background:#e4e4e4;border-radius:0px;"></div>
<div style="position:absolute;left:71px;top:3112px;width:534px;height:1px;background:#e4e4e4;border-radius:0px;"></div>
<div style="position:absolute;left:71px;top:3077px;width:534px;height:1px;background:#e4e4e4;border-radius:0px;"></div>
<div style="position:absolute;left:70.5px;top:3071px;width:1px;height:184px;background:#d0d0d0;border-radius:0px;"></div>
<div style="position:absolute;left:92.5px;top:3223.91px;width:17px;height:30.09px;background:#7b68e0;border-radius:0px;"></div>
<div style="position:absolute;left:151.7px;top:3250.46px;width:17px;height:3.54px;background:#7b68e0;border-radius:0px;"></div>
<div style="position:absolute;left:210.9px;top:3176.12px;width:17px;height:77.88px;background:#7b68e0;border-radius:0px;"></div>
<div style="position:absolute;left:270.1px;top:3252.5px;width:17px;height:1.5px;background:#7b68e0;border-radius:0px;"></div>
<div style="position:absolute;left:329.3px;top:3250.46px;width:17px;height:3.54px;background:#7b68e0;border-radius:0px;"></div>
<div style="position:absolute;left:388.5px;top:3227.45px;width:17px;height:26.55px;background:#7b68e0;border-radius:0px;"></div>
<div style="position:absolute;left:447.70000000000005px;top:3241.61px;width:17px;height:12.39px;background:#7b68e0;border-radius:0px;"></div>
<div style="position:absolute;left:506.9000000000001px;top:3241.61px;width:17px;height:12.39px;background:#7b68e0;border-radius:0px;"></div>
<div style="position:absolute;left:566.1px;top:3250.46px;width:17px;height:3.54px;background:#7b68e0;border-radius:0px;"></div>
<div style="position:absolute;left:-50px;top:3341px;width:330px;height:15px;background:#efc166;border-radius:7.5px;"></div>
<div style="position:absolute;left:285.5px;top:3341.5px;width:14px;height:14px;background:#efc166;border-radius:7px;"></div>
<div style="position:absolute;left:-50px;top:3355px;width:297.5px;height:15.5px;background:#efc166;border-radius:7.75px;"></div>
<div style="position:absolute;left:-50px;top:3370px;width:228px;height:15px;background:#efc166;border-radius:7.5px;"></div>
<div style="position:absolute;left:183px;top:3371.5px;width:14px;height:14px;background:#efc166;border-radius:7px;"></div>
<div style="position:absolute;left:-50px;top:3355px;width:236px;height:15px;background:#fbd487;border-radius:7.5px;"></div>
<div style="position:absolute;left:-50px;top:3369px;width:210px;height:13px;background:#fbd487;border-radius:6.5px;"></div>
<div style="position:absolute;left:192.5px;top:3356.0px;width:15.0px;height:15.0px;background:#fbd487;border-radius:7.5px;"></div>
<div style="position:absolute;left:91.5px;top:3433.5px;width:22px;height:22px;background:#fbd58a;border-radius:11px;"></div>
<div style="position:absolute;left:43.0px;top:3475.5px;width:14px;height:14px;background:#fbd58a;border-radius:7px;"></div>
<div style="position:absolute;left:45.5px;top:3431px;width:66px;height:66px;background:#efc36e;border-radius:33px;"></div>
<div style="position:absolute;left:168px;top:3436px;width:16px;height:16px;background:#fbd58a;border-radius:8px;"></div>
<div style="position:absolute;left:217px;top:3472px;width:22px;height:22px;background:#fbd58a;border-radius:11px;"></div>
<div style="position:absolute;left:169px;top:3431px;width:66px;height:66px;background:#efc36e;border-radius:33px;"></div>
<div style="position:absolute;left:293px;top:3436px;width:16px;height:16px;background:#fbd58a;border-radius:8px;"></div>
<div style="position:absolute;left:341px;top:3434px;width:22px;height:22px;background:#fbd58a;border-radius:11px;"></div>
<div style="position:absolute;left:291.5px;top:3475.5px;width:14px;height:14px;background:#fbd58a;border-radius:7px;"></div>
<div style="position:absolute;left:294px;top:3431px;width:66px;height:66px;background:#efc36e;border-radius:33px;"></div>
<div style="position:absolute;left:465px;top:3433.5px;width:22px;height:22px;background:#fbd58a;border-radius:11px;"></div>
<div style="position:absolute;left:416.5px;top:3475.5px;width:14px;height:14px;background:#fbd58a;border-radius:7px;"></div>
<div style="position:absolute;left:419px;top:3431px;width:66px;height:66px;background:#efc36e;border-radius:33px;"></div>
<div style="position:absolute;left:541.5px;top:3435.5px;width:19.0px;height:19.0px;background:#fbd58a;border-radius:9.5px;"></div>
<div style="position:absolute;left:541.5px;top:3475.5px;width:14px;height:14px;background:#fbd58a;border-radius:7px;"></div>
<div style="position:absolute;left:544px;top:3431px;width:66px;height:66px;background:#efc36e;border-radius:33px;"></div>
<div style="position:absolute;left:91.5px;top:3563.5px;width:22px;height:22px;background:#fbd58a;border-radius:11px;"></div>
<div style="position:absolute;left:43.0px;top:3605.5px;width:14px;height:14px;background:#fbd58a;border-radius:7px;"></div>
<div style="position:absolute;left:45.5px;top:3561px;width:66px;height:66px;background:#efc36e;border-radius:33px;"></div>
<div style="position:absolute;left:168px;top:3566px;width:16px;height:16px;background:#fbd58a;border-radius:8px;"></div>
<div style="position:absolute;left:217px;top:3602px;width:22px;height:22px;background:#fbd58a;border-radius:11px;"></div>
<div style="position:absolute;left:169px;top:3561px;width:66px;height:66px;background:#efc36e;border-radius:33px;"></div>
<div style="position:absolute;left:293px;top:3566px;width:16px;height:16px;background:#fbd58a;border-radius:8px;"></div>
<div style="position:absolute;left:342px;top:3602px;width:22px;height:22px;background:#fbd58a;border-radius:11px;"></div>
<div style="position:absolute;left:294px;top:3561px;width:66px;height:66px;background:#efc36e;border-radius:33px;"></div>
<div style="position:absolute;left:418px;top:3566px;width:16px;height:16px;background:#fbd58a;border-radius:8px;"></div>
<div style="position:absolute;left:466px;top:3564px;width:22px;height:22px;background:#fbd58a;border-radius:11px;"></div>
<div style="position:absolute;left:416.5px;top:3605.5px;width:14px;height:14px;background:#fbd58a;border-radius:7px;"></div>
<div style="position:absolute;left:419px;top:3561px;width:66px;height:66px;background:#efc36e;border-radius:33px;"></div>
<div style="position:absolute;left:527px;top:3581px;width:153px;height:14px;background:#f5f5f5;border-radius:7.0px;"></div>
<div style="position:absolute;left:550px;top:3609px;width:151px;height:14px;background:#f5f5f5;border-radius:7.0px;"></div>
<svg style="left:0;top:0" width="650" height="10"><path fill="#f5f5f5" d="M583,3595 Q597,3595 597,3602 Q597,3609 583,3609 L641,3609 Q627,3609 627,3602 Q627,3595 641,3595 Z"/></svg>
<div style="position:absolute;left:531.0px;top:3609.5px;width:13.0px;height:13.0px;background:#f5f5f5;border-radius:6.5px;"></div>
<div style="position:absolute;left:0px;top:3710px;width:650px;height:240px;background:#3f7a53;border-radius:0px;"></div>
<svg style="left:0;top:3680px" width="650" height="40" viewBox="0 320 650 40"><path fill="#6aa57f" d="M0,333 C30,333 55,336 90,342 L230,342 C270,334 305,331 340,331 C390,331 430,334 490,344 L490,360 L0,360 Z"/><path fill="#3f7a53" d="M0,344 C50,344 90,331 141,331 C225,331 300,343 386,343 C450,343 500,331 554,331 C595,331 625,334 650,337 L650,360 L0,360 Z"/></svg>
<svg style="left:250px;top:3716px" width="150" height="46" viewBox="250 3716 150 46">
<path d="M269.5,3733.5 C266.5,3727.5 259,3726.5 256.8,3732 C254.5,3738.5 259,3744 270.6,3754 C277,3748.5 281.5,3743.5 283.2,3738" fill="none" stroke="#fff" stroke-width="2.9" stroke-linecap="round" stroke-linejoin="round"/>
<path d="M279.5,3735.2 C278.5,3728.5 284.5,3723 293.8,3722.3 C294.2,3729.5 289,3736.8 279.5,3735.2 Z" fill="#fff"/>
<g fill="none" stroke="#fff" stroke-width="1.9" stroke-linecap="butt">
<path d="M307,3738.5 V3754.5"/><circle cx="307" cy="3732" r="1.1" fill="#fff" stroke="none"/>
<path d="M315,3754.5 V3738.5 M315,3745 C315,3736.5 329,3736.5 329,3745 V3754.5"/>
<path d="M337,3727 V3754.5"/>
<path d="M345,3738.5 V3754.5"/><circle cx="345" cy="3732" r="1.1" fill="#fff" stroke="none"/>
<path d="M351,3738.5 L358.5,3754.5 L366,3738.5"/>
<ellipse cx="380.5" cy="3746.5" rx="8.8" ry="8.2"/>
</g></svg>
<svg style="left:286px;top:3858px" width="80" height="52" viewBox="286 3858 80 52">
<path d="M294.5,3884 V3865 Q294.5,3863 296.5,3863 H344 Q346,3863 346,3865 V3872" fill="none" stroke="#fff" stroke-width="2.6"/>
<rect x="303.5" y="3892.5" width="33.5" height="5.5" fill="#fff"/><circle cx="320.5" cy="3895.3" r="1.2" fill="#3f7a53"/>
<path d="M316,3899 H325 L327.5,3905 H313.5 Z" fill="#fff"/>
<rect x="288.5" y="3882.5" width="14" height="23" rx="2" fill="#fff"/><rect x="290.6" y="3886" width="9.8" height="15.5" fill="#3f7a53"/><rect x="293.5" y="3883.6" width="4" height="1" fill="#3f7a53"/><circle cx="295.5" cy="3903.5" r="1" fill="#3f7a53"/>
<rect x="338" y="3873" width="24" height="32.6" rx="2.5" fill="#fff"/><rect x="340.5" y="3876" width="19" height="23" fill="#3f7a53"/><circle cx="346" cy="3902.3" r="1" fill="#3f7a53"/><circle cx="350" cy="3902.3" r="1" fill="#3f7a53"/><circle cx="354" cy="3902.3" r="1" fill="#3f7a53"/>
</svg>
<div class="t" style="top:189.0px;font-size:31.16px;color:#3f7a53;font-weight:bold;left:90.0px;transform:scaleX(1.042);">WHEAT, CREAM OF, COOKED,</div>
<div class="t" style="top:224.5px;font-size:31.16px;color:#3f7a53;font-weight:bold;left:71.5px;transform:scaleX(1.035);">QUICK, FAT ADDED IN COOKING</div>
<div class="t" style="top:262.0px;font-size:21.74px;color:#626262;left:176.5px;transform:scaleX(1.064);">Cup, Cooked (244 g / 8.6 oz)</div>
<div class="t" style="top:376.6px;font-size:34.06px;color:#fff;font-weight:bold;left:30.0px;transform:scaleX(1.029);">KEY FACTS</div>
<div class="t" style="top:413.8px;font-size:20.29px;color:#fff;left:30.0px;transform:scaleX(0.977);">LEARN ABOUT HEALTH BENEFITS OR RISKS</div>
<div class="t" style="top:471.6px;font-size:27.54px;color:#fff;font-weight:bold;left:60.0px;transform:scaleX(1.074);">LOW</div>
<div class="t" style="top:502.9px;font-size:22.46px;color:#fff;left:30.0px;transform:scaleX(0.985);">CALORIE DENSITY</div>
<div class="t" style="top:470.0px;font-size:40.58px;color:#fff;font-weight:bold;left:555.5px;transform:scaleX(1.187);">0.5</div>
<div class="t" style="top:510.9px;font-size:13.04px;color:#fff;font-weight:bold;left:487.5px;transform:scaleX(0.946);">CALORIES PER GRAM</div>
<div class="t" style="top:536.8px;font-size:17.1px;color:#fff;left:30.0px;transform:scaleX(1.075);">The amount of calories you are getting from 1 gram is low.</div>
<div class="t" style="top:591.6px;font-size:27.54px;color:#fff;font-weight:bold;left:60.0px;transform:scaleX(1.074);">LOW</div>
<div class="t" style="top:622.9px;font-size:22.46px;color:#fff;left:30.0px;transform:scaleX(0.990);">RISKY CONTENT DENSITY</div>
<div class="t" style="top:590.0px;font-size:40.58px;color:#fff;font-weight:bold;left:565.5px;transform:scaleX(1.010);">0.1</div>
<div class="t" style="top:630.9px;font-size:13.04px;color:#fff;font-weight:bold;left:521.0px;transform:scaleX(0.933);">% DV PER GRAM</div>
<div class="t" style="top:657.3px;font-size:17.1px;color:#fff;left:30.0px;transform:scaleX(1.081);">Risky Content density is the relationship of bad components</div>
<div class="t" style="top:682.3px;font-size:17.1px;color:#fff;left:30.0px;transform:scaleX(1.054);">(Cholesterol, Saturated Fat, Sugars &amp; Sodium) to the amount (%DV/gr).</div>
<div class="t" style="top:736.6px;font-size:27.54px;color:#fff;font-weight:bold;left:60.0px;transform:scaleX(1.099);">RICH  IN</div>
<div class="t" style="top:767.9px;font-size:22.46px;color:#fff;left:30.0px;transform:scaleX(1.006);">VITAMINS &amp; MINERALS</div>
<div class="t" style="top:735.0px;font-size:40.58px;color:#fff;font-weight:bold;left:571.5px;transform:scaleX(1.130);">27</div>
<div class="t" style="top:775.9px;font-size:13.04px;color:#fff;font-weight:bold;left:503.0px;transform:scaleX(0.937);">% DV PER CALORIE</div>
<div class="t" style="top:869.4px;font-size:41.3px;color:#3a78a8;font-weight:bold;left:30.0px;transform:scaleX(1.048);">132 CALORIES</div>
<div class="t" style="top:919.0px;font-size:21.74px;color:#7fb1dc;font-weight:bold;left:30.0px;transform:scaleX(1.203);">49 FROM FAT</div>
<div class="t" style="top:988.1px;font-size:21.01px;color:#808080;left:51.0px;transform:scaleX(0.979);">CARBOHYDRATES: 18 g</div>
<div class="t" style="top:1012.6px;font-size:27.54px;color:#6c6c6c;font-weight:bold;left:51.0px;transform:scaleX(1.187);">4.9% DV</div>
<div class="t" style="top:1070.1px;font-size:21.01px;color:#808080;left:51.0px;transform:scaleX(0.982);">PROTEIN: 2.8 g</div>
<div class="t" style="top:1094.6px;font-size:27.54px;color:#6c6c6c;font-weight:bold;left:51.0px;transform:scaleX(1.187);">4.9% DV</div>
<div class="t" style="top:1152.1px;font-size:21.01px;color:#808080;left:51.0px;transform:scaleX(0.948);">DIETARY FIBER: 1 g</div>
<div class="t" style="top:1176.6px;font-size:27.54px;color:#6c6c6c;font-weight:bold;left:51.0px;transform:scaleX(1.187);">4.9% DV</div>
<div class="t" style="top:1152.1px;font-size:21.01px;color:#808080;left:376.0px;transform:scaleX(1.056);">TOTAL FAT: 5.4 g</div>
<div class="t" style="top:1176.6px;font-size:27.54px;color:#6c6c6c;font-weight:bold;left:376.0px;transform:scaleX(1.160);">7.3% DV</div>
<div class="t" style="top:1247.4px;font-size:41.3px;color:#e3a474;font-weight:bold;left:290.0px;transform:scaleX(1.088);">HEALTHY FATS</div>
<div class="t" style="top:1297.4px;font-size:22.46px;color:#e6ae84;left:180.5px;transform:scaleX(1.106);">SOME FATS MAY BE GOOD FOR YOU</div>
<div class="t" style="top:1360.7px;font-size:29.71px;color:#fff;font-weight:bold;left:84.0px;transform:scaleX(1.162);">0.9</div>
<div class="t" style="top:1391.4px;font-size:16px;color:#fff;left:86.5px;transform:scaleX(0.967);">grams</div>
<div class="t" style="top:1433.9px;font-size:22.46px;color:#626262;left:59.5px;transform:scaleX(1.050);">Omega 3</div>
<div class="t" style="top:1360.7px;font-size:29.71px;color:#fff;font-weight:bold;left:301.5px;transform:scaleX(1.162);">2.3</div>
<div class="t" style="top:1391.4px;font-size:16px;color:#fff;left:304.0px;transform:scaleX(0.967);">grams</div>
<div class="t" style="top:1433.9px;font-size:22.46px;color:#626262;left:276.0px;transform:scaleX(1.072);">Omega 6</div>
<div class="t" style="top:1360.7px;font-size:29.71px;color:#fff;font-weight:bold;left:516.5px;transform:scaleX(1.162);">1.7</div>
<div class="t" style="top:1391.4px;font-size:16px;color:#fff;left:519.0px;transform:scaleX(0.967);">grams</div>
<div class="t" style="top:1433.9px;font-size:22.46px;color:#626262;left:502.5px;transform:scaleX(1.032);">MUFAs</div>
<div class="t" style="top:1537.4px;font-size:41.3px;color:#b8666a;font-weight:bold;left:30.0px;transform:scaleX(1.068);">HIGH RISK</div>
<div class="t" style="top:1588.4px;font-size:22.46px;color:#c07a7d;left:30.0px;transform:scaleX(1.100);">COMPONENTS</div>
<div class="t" style="top:1724.8px;font-size:23.19px;color:#7c7c7c;left:43.5px;transform:scaleX(1.068);">ADDED SUGAR - 0 g</div>
<div class="t" style="top:1751.1px;font-size:27.54px;color:#707070;font-weight:bold;left:112.0px;transform:scaleX(1.179);">0% DV</div>
<div class="t" style="top:1724.8px;font-size:23.19px;color:#7c7c7c;left:386.5px;transform:scaleX(1.054);">SODIUM - 351 mg</div>
<div class="t" style="top:1751.1px;font-size:27.54px;color:#707070;font-weight:bold;left:430.0px;transform:scaleX(1.129);">15% DV</div>
<div class="t" style="top:1884.8px;font-size:23.19px;color:#7c7c7c;left:26.5px;transform:scaleX(1.037);">CHOLESTEROL - 0.1 mg</div>
<div class="t" style="top:1911.1px;font-size:27.54px;color:#707070;font-weight:bold;left:112.5px;transform:scaleX(1.179);">0% DV</div>
<div class="t" style="top:1884.8px;font-size:23.19px;color:#7c7c7c;left:401.5px;transform:scaleX(1.029);">SAT. FAT - 1.1 g</div>
<div class="t" style="top:1911.1px;font-size:27.54px;color:#707070;font-weight:bold;left:422.5px;transform:scaleX(1.187);">4.9% DV</div>
<div class="t" style="top:1994.8px;font-size:42.03px;color:#e9a575;font-weight:bold;left:30.0px;transform:scaleX(1.129);">GLYCEMIC INDEX</div>
<div class="t" style="top:2043.9px;font-size:22.46px;color:#ecb086;left:30.0px;transform:scaleX(0.979);">ESTIMATED FOR THIS FOOD</div>
<div class="t" style="top:2088.5px;font-size:21.74px;color:#666;font-weight:bold;left:285.0px;transform:scaleX(1.089);">MEDIUM</div>
<div class="t" style="top:2088.5px;font-size:21.74px;color:#999;left:394.0px;transform:scaleX(1.116);">66</div>
<div class="t" style="top:2176.9px;font-size:19.57px;color:#444;left:41.1px;">0</div>
<div class="t" style="top:2176.9px;font-size:19.57px;color:#444;left:176.1px;">25</div>
<div class="t" style="top:2176.9px;font-size:19.57px;color:#444;left:316.1px;">50</div>
<div class="t" style="top:2176.9px;font-size:19.57px;color:#444;left:459.1px;">75</div>
<div class="t" style="top:2176.9px;font-size:19.57px;color:#444;left:580.7px;">100</div>
<div class="t" style="top:2276.1px;font-size:27.54px;color:#4a8ba0;left:30.0px;transform:scaleX(1.006);">HOW TO BURN</div>
<div class="t" style="top:2304.1px;font-size:34.06px;color:#3a8095;font-weight:bold;left:30.0px;transform:scaleX(0.975);">THOSE CALORIES</div>
<div class="t" style="top:2480.9px;font-size:19.57px;color:#747474;left:12.5px;transform:scaleX(1.049);">Climbing Stairs</div>
<div class="t" style="top:2507.1px;font-size:18.12px;color:#555;font-weight:bold;left:48.5px;transform:scaleX(1.150);">28 min</div>
<div class="t" style="top:2480.9px;font-size:19.57px;color:#747474;left:209.0px;transform:scaleX(1.060);">Cycling</div>
<div class="t" style="top:2507.1px;font-size:18.12px;color:#555;font-weight:bold;left:212.0px;transform:scaleX(1.081);">19 min</div>
<div class="t" style="top:2480.9px;font-size:19.57px;color:#747474;left:375.0px;transform:scaleX(1.053);">Boxing</div>
<div class="t" style="top:2507.1px;font-size:18.12px;color:#555;font-weight:bold;left:375.5px;transform:scaleX(1.081);">10 min</div>
<div class="t" style="top:2480.9px;font-size:19.57px;color:#747474;left:527.5px;transform:scaleX(1.062);">Cleaning</div>
<div class="t" style="top:2507.1px;font-size:18.12px;color:#555;font-weight:bold;left:535.5px;transform:scaleX(1.150);">44 min</div>
<div class="t" style="top:2572.4px;font-size:41.3px;color:#3e9f78;font-weight:bold;left:403.0px;transform:scaleX(1.122);">VITAMINS</div>
<div class="t" style="top:2617.5px;font-size:18.84px;color:#52a888;left:443.0px;transform:scaleX(0.967);">(% OF DAILY VALUE)</div>
<div class="t" style="top:2860.0px;font-size:21.74px;color:#8e8e8e;left:51.4px;">0</div>
<div class="t" style="top:2824.6px;font-size:21.74px;color:#8e8e8e;left:39.3px;">20</div>
<div class="t" style="top:2789.2px;font-size:21.74px;color:#8e8e8e;left:39.3px;">40</div>
<div class="t" style="top:2753.8px;font-size:21.74px;color:#8e8e8e;left:39.3px;">60</div>
<div class="t" style="top:2718.4px;font-size:21.74px;color:#8e8e8e;left:39.3px;">80</div>
<div class="t" style="top:2683.0px;font-size:21.74px;color:#8e8e8e;left:27.2px;">100</div>
<div class="t" style="top:2832.8px;font-size:21.01px;color:#6bb98b;left:87.2px;">5</div>
<div class="t" style="top:2880.8px;font-size:20.29px;color:#7a7a7a;left:86.2px;">A</div>
<div class="t" style="top:2811.5px;font-size:21.01px;color:#6bb98b;left:125.8px;">17</div>
<div class="t" style="top:2880.8px;font-size:20.29px;color:#7a7a7a;left:125.1px;">B1</div>
<div class="t" style="top:2829.2px;font-size:21.01px;color:#6bb98b;left:176.2px;">7</div>
<div class="t" style="top:2880.8px;font-size:20.29px;color:#7a7a7a;left:169.6px;">B2</div>
<div class="t" style="top:2811.5px;font-size:21.01px;color:#6bb98b;left:214.8px;">17</div>
<div class="t" style="top:2880.8px;font-size:20.29px;color:#7a7a7a;left:214.1px;">B3</div>
<div class="t" style="top:2831.0px;font-size:21.01px;color:#6bb98b;left:265.2px;">6</div>
<div class="t" style="top:2880.8px;font-size:20.29px;color:#7a7a7a;left:258.6px;">B5</div>
<div class="t" style="top:2802.7px;font-size:21.01px;color:#6bb98b;left:303.8px;">22</div>
<div class="t" style="top:2880.8px;font-size:20.29px;color:#7a7a7a;left:303.1px;">B6</div>
<div class="t" style="top:2822.2px;font-size:21.01px;color:#6bb98b;left:349.1px;">11</div>
<div class="t" style="top:2880.8px;font-size:20.29px;color:#7a7a7a;left:347.6px;">B9</div>
<div class="t" style="top:2815.1px;font-size:21.01px;color:#6bb98b;left:392.8px;">15</div>
<div class="t" style="top:2880.8px;font-size:20.29px;color:#7a7a7a;left:386.5px;">B12</div>
<div class="t" style="top:2840.1px;font-size:21.01px;color:#6bb98b;left:443.2px;">0</div>
<div class="t" style="top:2880.8px;font-size:20.29px;color:#7a7a7a;left:441.7px;">C</div>
<div class="t" style="top:2838.1px;font-size:21.01px;color:#6bb98b;left:487.7px;">2</div>
<div class="t" style="top:2880.8px;font-size:20.29px;color:#7a7a7a;left:486.2px;">D</div>
<div class="t" style="top:2811.5px;font-size:21.01px;color:#6bb98b;left:526.3px;">17</div>
<div class="t" style="top:2880.8px;font-size:20.29px;color:#7a7a7a;left:531.2px;">E</div>
<div class="t" style="top:2820.4px;font-size:21.01px;color:#6bb98b;left:570.8px;">12</div>
<div class="t" style="top:2880.8px;font-size:20.29px;color:#7a7a7a;left:575.7px;">K</div>
<div class="t" style="top:2957.4px;font-size:41.3px;color:#7b5fe0;font-weight:bold;left:30.0px;transform:scaleX(1.057);">MINERALS</div>
<div class="t" style="top:2999.5px;font-size:18.84px;color:#8a72e4;left:30.0px;transform:scaleX(0.967);">(% OF DAILY VALUE)</div>
<div class="t" style="top:3243.0px;font-size:21.74px;color:#8e8e8e;left:51.4px;">0</div>
<div class="t" style="top:3207.6px;font-size:21.74px;color:#8e8e8e;left:39.3px;">20</div>
<div class="t" style="top:3172.2px;font-size:21.74px;color:#8e8e8e;left:39.3px;">40</div>
<div class="t" style="top:3136.8px;font-size:21.74px;color:#8e8e8e;left:39.3px;">60</div>
<div class="t" style="top:3101.4px;font-size:21.74px;color:#8e8e8e;left:39.3px;">80</div>
<div class="t" style="top:3066.0px;font-size:21.74px;color:#8e8e8e;left:27.2px;">100</div>
<div class="t" style="top:3194.5px;font-size:21.01px;color:#8f80e6;left:89.3px;">17</div>
<div class="t" style="top:3263.8px;font-size:20.29px;color:#7a7a7a;left:88.0px;">Ca</div>
<div class="t" style="top:3221.1px;font-size:21.01px;color:#8f80e6;left:154.4px;">2</div>
<div class="t" style="top:3263.8px;font-size:20.29px;color:#7a7a7a;left:147.2px;">Cu</div>
<div class="t" style="top:3146.8px;font-size:21.01px;color:#8f80e6;left:207.7px;">44</div>
<div class="t" style="top:3263.8px;font-size:20.29px;color:#7a7a7a;left:207.6px;">Fe</div>
<div class="t" style="top:3223.1px;font-size:21.01px;color:#8f80e6;left:272.8px;">0</div>
<div class="t" style="top:3263.8px;font-size:20.29px;color:#7a7a7a;left:271.8px;">K</div>
<div class="t" style="top:3221.1px;font-size:21.01px;color:#8f80e6;left:332.0px;">2</div>
<div class="t" style="top:3263.8px;font-size:20.29px;color:#7a7a7a;left:323.7px;">Mg</div>
<div class="t" style="top:3198.1px;font-size:21.01px;color:#8f80e6;left:385.3px;">15</div>
<div class="t" style="top:3263.8px;font-size:20.29px;color:#7a7a7a;left:382.9px;">Mn</div>
<div class="t" style="top:3212.2px;font-size:21.01px;color:#8f80e6;left:450.4px;">7</div>
<div class="t" style="top:3263.8px;font-size:20.29px;color:#7a7a7a;left:449.4px;">P</div>
<div class="t" style="top:3212.2px;font-size:21.01px;color:#8f80e6;left:509.6px;">7</div>
<div class="t" style="top:3263.8px;font-size:20.29px;color:#7a7a7a;left:503.0px;">Se</div>
<div class="t" style="top:3221.1px;font-size:21.01px;color:#8f80e6;left:568.8px;">2</div>
<div class="t" style="top:3263.8px;font-size:20.29px;color:#7a7a7a;left:562.8px;">Zn</div>
<div class="t" style="top:3333.4px;font-size:41.3px;color:#f0c060;font-weight:bold;left:316.0px;transform:scaleX(1.098);">AMINO ACIDS</div>
<div class="t" style="top:3379.0px;font-size:18.84px;color:#f2cb7c;left:258.0px;transform:scaleX(0.956);">THESE ARE ESSENTIAL FOR YOUR BODY</div>
<div class="t" style="top:3448.1px;font-size:21.01px;color:#fff;font-weight:bold;left:54.2px;transform:scaleX(1.187);">0.06</div>
<div class="t" style="top:3468.1px;font-size:15px;color:#fff;left:74.3px;">g</div>
<div class="t" style="top:3510.5px;font-size:18.84px;color:#626262;left:37.5px;transform:scaleX(1.108);">Histidine</div>
<div class="t" style="top:3448.1px;font-size:21.01px;color:#fff;font-weight:bold;left:186.0px;transform:scaleX(1.096);">0.1</div>
<div class="t" style="top:3468.1px;font-size:15px;color:#fff;left:197.8px;">g</div>
<div class="t" style="top:3510.5px;font-size:18.84px;color:#626262;left:153.5px;transform:scaleX(1.120);">Isoleucine</div>
<div class="t" style="top:3448.1px;font-size:21.01px;color:#fff;font-weight:bold;left:305.0px;transform:scaleX(1.076);">0.21</div>
<div class="t" style="top:3468.1px;font-size:15px;color:#fff;left:322.8px;">g</div>
<div class="t" style="top:3510.5px;font-size:18.84px;color:#626262;left:288.5px;transform:scaleX(1.137);">Leucine</div>
<div class="t" style="top:3448.1px;font-size:21.01px;color:#fff;font-weight:bold;left:428.0px;transform:scaleX(1.174);">0.07</div>
<div class="t" style="top:3468.1px;font-size:15px;color:#fff;left:447.8px;">g</div>
<div class="t" style="top:3510.5px;font-size:18.84px;color:#626262;left:421.0px;transform:scaleX(1.117);">Lysine</div>
<div class="t" style="top:3448.1px;font-size:21.01px;color:#fff;font-weight:bold;left:552.5px;transform:scaleX(1.199);">0.04</div>
<div class="t" style="top:3468.1px;font-size:15px;color:#fff;left:572.8px;">g</div>
<div class="t" style="top:3510.5px;font-size:18.84px;color:#626262;left:524.0px;transform:scaleX(1.129);">Methionine</div>
<div class="t" style="top:3578.1px;font-size:21.01px;color:#fff;font-weight:bold;left:56.0px;transform:scaleX(1.101);">0.14</div>
<div class="t" style="top:3598.1px;font-size:15px;color:#fff;left:74.3px;">g</div>
<div class="t" style="top:3640.5px;font-size:18.84px;color:#626262;left:12.5px;transform:scaleX(1.099);">Phenylalanine</div>
<div class="t" style="top:3578.1px;font-size:21.01px;color:#fff;font-weight:bold;left:177.8px;transform:scaleX(1.187);">0.05</div>
<div class="t" style="top:3598.1px;font-size:15px;color:#fff;left:197.8px;">g</div>
<div class="t" style="top:3640.5px;font-size:18.84px;color:#626262;left:154.5px;transform:scaleX(1.097);">Threonine</div>
<div class="t" style="top:3578.1px;font-size:21.01px;color:#fff;font-weight:bold;left:302.8px;transform:scaleX(1.187);">0.03</div>
<div class="t" style="top:3598.1px;font-size:15px;color:#fff;left:322.8px;">g</div>
<div class="t" style="top:3640.5px;font-size:18.84px;color:#626262;left:273.0px;transform:scaleX(1.121);">Tryptophan</div>
<div class="t" style="top:3578.1px;font-size:21.01px;color:#fff;font-weight:bold;left:430.5px;transform:scaleX(1.052);">0.13</div>
<div class="t" style="top:3598.1px;font-size:15px;color:#fff;left:447.8px;">g</div>
<div class="t" style="top:3640.5px;font-size:18.84px;color:#626262;left:421.5px;transform:scaleX(1.158);">Valine</div>
<div class="t" style="top:3766.1px;font-size:15.22px;color:#fff;left:210.0px;transform:scaleX(1.034);">Nutrition Tracker &amp; Health Coach</div>
<div class="t" style="top:3786.4px;font-size:16.5px;color:#fff;left:256.7px;letter-spacing:1.85px;border-bottom:1px solid #cfe0d5;padding-bottom:1px;">www.inlivo.com</div>
<div class="t" style="top:3817.3px;font-size:13.77px;color:#fff;left:92.0px;transform:scaleX(0.993);">Nothing contained in this presentation and our services is intended or implied</div>
<div class="t" style="top:3833.8px;font-size:13.77px;color:#fff;left:184.5px;transform:scaleX(0.987);">to be a medical advice, diagnosis or treatment.</div>
<div class="t" style="top:3913.7px;font-size:14.49px;color:#cfe0d5;font-weight:bold;left:162.0px;transform:scaleX(0.920);">Available on your desktop, tablet and mobile phone</div>
</body></html>
